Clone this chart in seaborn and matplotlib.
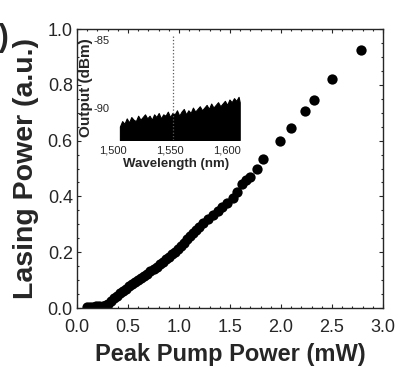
import matplotlib
matplotlib.use("Agg")
import matplotlib.pyplot as plt
import matplotlib.ticker as ticker
import seaborn as sns
import pandas as pd

# main curve: peak pump power (mW) vs lasing power (a.u.)
pump_power = [0.10, 0.13, 0.16, 0.19, 0.22, 0.25, 0.28, 0.30, 0.33, 0.36,
              0.39, 0.42, 0.45, 0.48, 0.51, 0.54, 0.57, 0.60, 0.63, 0.66,
              0.69, 0.72, 0.75, 0.78, 0.81, 0.84, 0.87, 0.90, 0.93, 0.96,
              0.99, 1.02, 1.05, 1.08, 1.11, 1.14, 1.17, 1.20, 1.24, 1.28,
              1.33, 1.38, 1.42, 1.47, 1.53, 1.57, 1.62, 1.66, 1.70, 1.76,
              1.82, 1.99, 2.10, 2.24, 2.32, 2.50, 2.78]
lasing_power = [0.004, 0.004, 0.005, 0.006, 0.006, 0.008, 0.010, 0.016, 0.026, 0.035,
                0.043, 0.052, 0.060, 0.069, 0.078, 0.086, 0.094, 0.101, 0.108, 0.116,
                0.123, 0.131, 0.139, 0.147, 0.156, 0.165, 0.174, 0.183, 0.192, 0.201,
                0.211, 0.222, 0.234, 0.246, 0.258, 0.270, 0.280, 0.290, 0.305, 0.318,
                0.333, 0.348, 0.362, 0.375, 0.394, 0.415, 0.445, 0.458, 0.470, 0.497,
                0.535, 0.600, 0.645, 0.706, 0.745, 0.820, 0.925]

# inset spectrum: upper envelope of the noise floor (dBm)
wavelength = [1506, 1508, 1510, 1512, 1514, 1516, 1518, 1520, 1522, 1524,
              1526, 1528, 1530, 1532, 1534, 1536, 1538, 1540, 1542, 1544,
              1546, 1548, 1550, 1552, 1554, 1556, 1558, 1560, 1562, 1564,
              1566, 1568, 1570, 1572, 1574, 1576, 1578, 1580, 1582, 1584,
              1586, 1588, 1590, 1592, 1594, 1596, 1598, 1600, 1602, 1604,
              1606, 1608, 1610, 1611]
noise_top = [-91.4, -91.0, -91.2, -90.8, -91.1, -90.7, -90.9, -91.0, -90.6, -90.9,
             -90.7, -90.5, -90.8, -90.6, -90.9, -90.5, -90.7, -90.4, -90.8, -90.5,
             -90.6, -90.3, -90.7, -90.4, -90.5, -90.2, -90.6, -90.3, -90.1, -90.5,
             -90.2, -90.4, -90.0, -90.3, -90.1, -89.9, -90.2, -90.0, -89.8, -90.1,
             -89.7, -90.0, -89.8, -89.6, -89.9, -89.7, -89.5, -89.8, -89.4, -89.6,
             -89.3, -89.5, -89.2, -89.6]
peak_wl = 1552.6
peak_level = -84.7
noise_floor = -92.4

df = pd.DataFrame({"pump": pump_power, "lasing": lasing_power})

sns.set_style("ticks")
plt.rcParams["font.family"] = ["Liberation Sans", "DejaVu Sans"]

fig = plt.figure(figsize=(4.0, 3.71), dpi=100)
ax = fig.add_axes([0.1925, 0.1698, 0.765, 0.752])

sns.scatterplot(data=df, x="pump", y="lasing", ax=ax, color="black",
                s=55, edgecolor="black", linewidth=0)

ax.set_xlim(0, 3.0)
ax.set_ylim(0, 1.0)
ax.xaxis.set_major_locator(ticker.MultipleLocator(0.5))
ax.yaxis.set_major_locator(ticker.MultipleLocator(0.2))
ax.xaxis.set_minor_locator(ticker.MultipleLocator(0.1))
ax.yaxis.set_minor_locator(ticker.MultipleLocator(0.05))
ax.tick_params(which="both", direction="in", top=True, right=True, labelsize=13,
               width=0.8)
ax.tick_params(axis="x", pad=8)
ax.tick_params(axis="y", pad=3)
ax.tick_params(which="major", length=3)
ax.tick_params(which="minor", length=1.5)
for s in ax.spines.values():
    s.set_linewidth(1.0)
ax.set_xlabel("Peak Pump Power (mW)", fontsize=17, fontweight="bold", labelpad=5)
ax.set_ylabel("Lasing Power (a.u.)", fontsize=20.5, fontweight="bold", labelpad=6)

# inset spectrum
ins = fig.add_axes([0.2775, 0.6226, 0.3275, 0.2803])
ins.fill_between(wavelength, noise_floor, noise_top, color="black", linewidth=0.8,
                 edgecolor="black")
ins.plot([peak_wl, peak_wl], [noise_floor, peak_level], color="0.35",
         linewidth=0.9, linestyle=":")
ins.set_xticks([1500, 1550, 1600])
ins.set_xticklabels(["1,500", "1,550", "1,600"])
ins.set_yticks([-85, -90])
ins.set_yticklabels(["-85", "-90"])
ins.set_xlim(1498.2, 1613)
ins.set_ylim(noise_floor, -84.7)
for s in ins.spines.values():
    s.set_visible(False)
ins.patch.set_alpha(0)
ins.tick_params(length=0, labelsize=8, pad=1)
ins.tick_params(axis="x", pad=4)
ins.set_xlabel("Wavelength (nm)", fontsize=9.5, fontweight="bold", labelpad=2)
ins.set_ylabel("Output (dBm)", fontsize=11, fontweight="bold", labelpad=0)

# cropped panel label
fig.text(0.022, 0.898, "b)", fontsize=22, fontweight="bold", ha="right", va="center")

fig.savefig("out.png", dpi=100)
